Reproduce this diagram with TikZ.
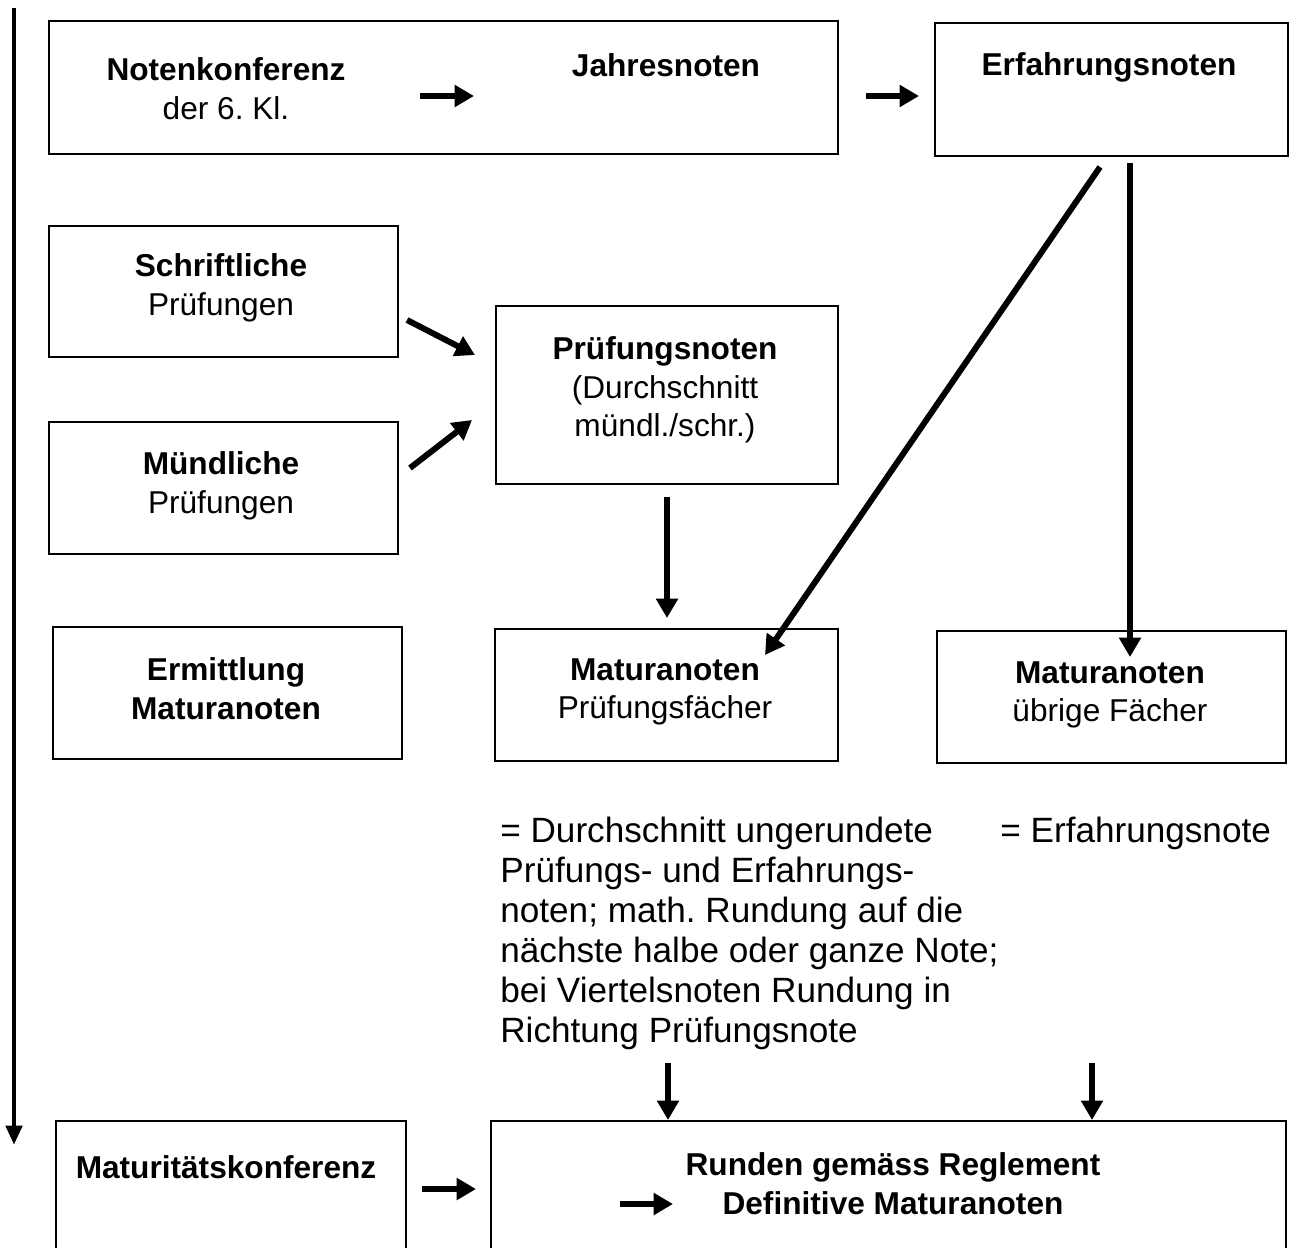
\documentclass[tikz,border=0pt]{standalone}
\usepackage{fontspec}
\setmainfont{Liberation Sans}
\usetikzlibrary{arrows.meta, positioning}
\tikzset{
  every picture/.style={x=0.02cm, y=-0.02cm},
  panel/.style args={#1 by #2}{draw, line width=1.3pt, anchor=north west, inner sep=0pt,
    minimum width=#1*0.02cm, minimum height=#2*0.02cm},
  lbl/.style={align=center, inner sep=0pt, font=\fontsize{18}{22}\selectfont},
  note/.style={align=left, anchor=north west, inner sep=0pt, font=\fontsize{20}{22.7}\selectfont},
  arrow/.style={-{Triangle[length=11pt, width=12pt]}, line width=3.4pt},
  timeline/.style={-{Triangle[length=11pt, width=9pt]}, line width=2.8pt},
}

\begin{document}
\begin{tikzpicture}
  \useasboundingbox (0,0) rectangle (1290,1247);
  \clip (0,0) rectangle (1290,1247);

  % boxes
  \node[panel=789 by 133] (jahr) at (48,20) {};
  \node[panel=353 by 133] (erf) at (934,22) {};
  \node[panel=349 by 131] (schr) at (48,225) {};
  \node[panel=349 by 132] (muend) at (48,421) {};
  \node[panel=342 by 178] (pruef) at (495,305) {};
  \node[panel=349 by 132] (ermit) at (52,626) {};
  \node[panel=343 by 132] (matp) at (494,628) {};
  \node[panel=349 by 132] (matu) at (936,630) {};
  \node[panel=350 by 200] (matk) at (55,1120) {};
  \node[panel=795 by 200] (rund) at (490,1120) {};

  % texts
  \node[lbl] (nk) at (226,89) {\textbf{Notenkonferenz}\\der 6.\ Kl.};
  \node[lbl] (jn) at (666,65) {\textbf{Jahresnoten}};
  \node[lbl] (en) at (1109,67) {\textbf{Erfahrungsnoten}};
  \node[lbl] (sp) at (221,288) {\textbf{Schriftliche}\\Prüfungen};
  \node[lbl] (mp) at (221,486) {\textbf{Mündliche}\\Prüfungen};
  \node[lbl] (pn) at (665,390) {\textbf{Prüfungsnoten}\\(Durchschnitt\\mündl./schr.)};
  \node[lbl] (em) at (226,689) {\textbf{Ermittlung}\\\textbf{Maturanoten}};
  \node[lbl] (mpn) at (665,692) {\textbf{Maturanoten}\\Prüfungsfächer};
  \node[lbl] (mun) at (1110,695) {\textbf{Maturanoten}\\übrige Fächer};
  \node[lbl] (mk) at (226,1167) {\textbf{Maturitätskonferenz}};
  \node[lbl] (rn) at (893,1184) {\textbf{Runden gemäss Reglement}\\\textbf{Definitive Maturanoten}};
  \node[note] (calc) at (500,817) {= Durchschnitt ungerundete\\Prüfungs- und Erfahrungs-\\noten; math.\ Rundung auf die\\nächste halbe oder ganze Note;\\bei Viertelsnoten Rundung in\\Richtung Prüfungsnote};
  \node[note] (same) at (1000,817) {= Erfahrungsnote};

  % free arrow ends
  \coordinate (t0) at (14,8);     \coordinate (t1) at (14,1145);
  \coordinate (a0) at (420,96);   \coordinate (a1) at (474,96);
  \coordinate (b0) at (866,96);   \coordinate (b1) at (919,96);
  \coordinate (c0) at (407,320);  \coordinate (c1) at (475,355);
  \coordinate (d0) at (410,468);  \coordinate (d1) at (472,420);
  \coordinate (e0) at (667,497);  \coordinate (e1) at (667,618);
  \coordinate (f0) at (1100,167); \coordinate (f1) at (765,655);
  \coordinate (g0) at (1130,163); \coordinate (g1) at (1130,657);
  \coordinate (h0) at (668,1063); \coordinate (i0) at (1092,1063);
  \coordinate (k0) at (422,1189); \coordinate (k1) at (476,1189);
  \coordinate (m0) at (620,1204); \coordinate (m1) at (673,1204);

  % arrows
  \draw[timeline] (t0) -- (t1);
  \foreach \s/\e in {a0/a1, b0/b1, c0/c1, d0/d1, e0/e1, f0/f1, g0/g1, k0/k1, m0/m1}
    \draw[arrow] (\s) -- (\e);
  \draw[arrow] (h0) -- (h0 |- rund.north);
  \draw[arrow] (i0) -- (i0 |- rund.north);
\end{tikzpicture}
\end{document}
